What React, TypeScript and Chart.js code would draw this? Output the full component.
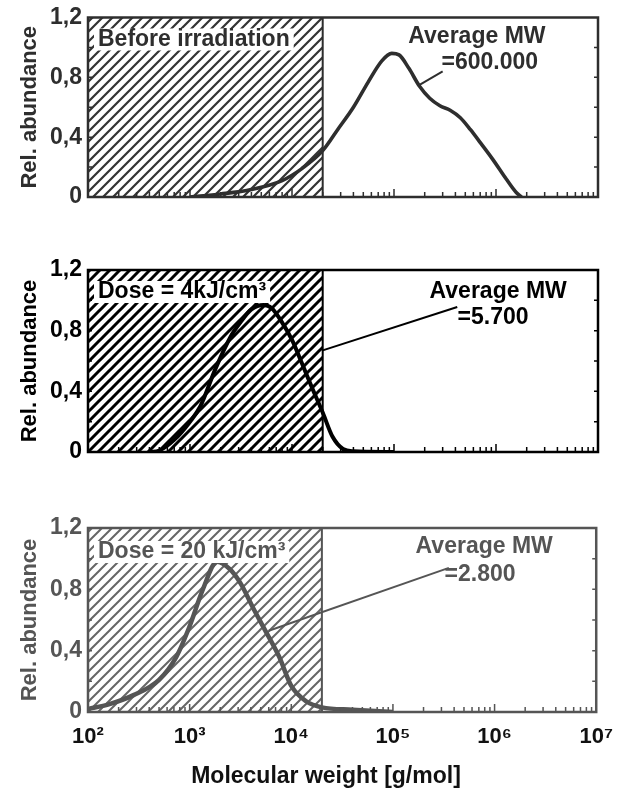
import React, { useEffect, useRef } from 'react';
import { Chart, registerables } from 'chart.js';
Chart.register(...registerables);

// ---- data ----
const xDecades = [100, 1000, 10000, 100000, 1000000, 10000000];
const xTickLabels = ['10²', '10³', '10⁴', '10⁵', '10⁶', '10⁷'];
const yTicks = [0, 0.4, 0.8, 1.2];
const hatchLimitMW = 20000;

const mwBefore = [1000, 2000, 4000, 8000, 12500, 20000, 28000, 40000, 56000, 76000, 95000, 112000, 140000, 178000, 224000, 282000, 355000, 447000, 562000, 708000, 933000, 1260000, 1580000, 1780000];
const abBefore = [0.0, 0.02, 0.05, 0.11, 0.19, 0.31, 0.45, 0.6, 0.77, 0.91, 0.96, 0.95, 0.86, 0.74, 0.66, 0.61, 0.58, 0.53, 0.45, 0.36, 0.25, 0.12, 0.03, 0.0];

const mwDose4 = [400, 500, 700, 1000, 1260, 1780, 2500, 3160, 4000, 5250, 6300, 7900, 10000, 12600, 15800, 20000, 25000, 31600, 40000, 100000];
const abDose4 = [0.0, 0.01, 0.08, 0.2, 0.3, 0.55, 0.76, 0.86, 0.94, 0.97, 0.95, 0.86, 0.74, 0.58, 0.42, 0.26, 0.1, 0.02, 0.005, 0.0];

const mwDose20 = [100, 160, 280, 500, 740, 1000, 1350, 1860, 2500, 3160, 4200, 5250, 7600, 10000, 14000, 20000, 40000, 100000];
const abDose20 = [0.02, 0.05, 0.11, 0.21, 0.36, 0.56, 0.8, 0.98, 0.93, 0.84, 0.68, 0.56, 0.36, 0.17, 0.07, 0.03, 0.015, 0.0];

const panelTitles = ['Before irradiation', 'Dose = 4kJ/cm³', 'Dose = 20 kJ/cm³'];
const avgLabel = 'Average MW';
const avgValues = ['=600.000', '=5.700', '=2.800'];
const avgLabelPos = [[650000, 1.07], [1050000, 1.055], [790000, 1.076]];
const avgValuePos = [[870000, 0.895], [935000, 0.883], [720000, 0.894]];
const leaderMW = [[300000, 178000], [417000, 20000], [355000, 6000]];
const leaderAb = [[0.84, 0.75], [0.956, 0.67], [0.94, 0.53]];

const yTitle = 'Rel. abundance';
const xTitle = 'Molecular weight [g/mol]';

// ---- styles ----
const FONT = '"Liberation Sans", Arial, Helvetica, sans-serif';
const panelStyles = [
  { top: 0, height: 250, pad: { top: 13, bottom: 53 }, ink: '#2e2e2e', hatch: '#333', hatchW: 2.2, lineW: 3.6 },
  { top: 250, height: 250, pad: { top: 20, bottom: 48 }, ink: '#000', hatch: '#000', hatchW: 3, lineW: 4 },
  { top: 500, height: 293, pad: { top: 28, bottom: 0 }, ink: '#555', hatch: '#666', hatchW: 2, lineW: 4.5 },
];
const panelData = [
  { mw: mwBefore, ab: abBefore },
  { mw: mwDose4, ab: abDose4 },
  { mw: mwDose20, ab: abDose20 },
];

function makeHatch(ctx: CanvasRenderingContext2D, color: string, lw: number) {
  const s = 10;
  const c = document.createElement('canvas');
  c.width = s; c.height = s;
  const g = c.getContext('2d')!;
  g.strokeStyle = color; g.lineWidth = lw;
  g.beginPath();
  g.moveTo(-1, s + 1); g.lineTo(s + 1, -1);
  g.moveTo(-s / 2 - 1, s / 2 + 1); g.lineTo(s / 2 + 1, -s / 2 - 1);
  g.moveTo(s / 2 - 1, s * 1.5 + 1); g.lineTo(s * 1.5 + 1, s / 2 - 1);
  g.stroke();
  return ctx.createPattern(c, 'repeat');
}

const fmtY = (v: number) => (v === 0 ? '0' : v.toFixed(1).replace('.', ','));

function Panel({ idx }: { idx: number }) {
  const ref = useRef<HTMLCanvasElement>(null);
  useEffect(() => {
    const canvas = ref.current!;
    const ctx = canvas.getContext('2d')!;
    const st = panelStyles[idx];
    const d = panelData[idx];
    const isBottom = idx === 2;
    const pattern = makeHatch(ctx, st.hatch, st.hatchW);

    const overlay = {
      id: 'overlay' + idx,
      afterDatasetsDraw(chart: any) {
        const { ctx: c, chartArea: a, scales } = chart;
        const xs = scales.x, ys = scales.y;
        c.save();
        // minor/major ticks (inside)
        c.strokeStyle = st.ink; c.lineWidth = 1.5;
        c.beginPath();
        for (let i = 0; i < xDecades.length - 1; i++) {
          for (let k = 1; k <= 9; k++) {
            const px = xs.getPixelForValue(k * xDecades[i]);
            const len = k === 1 ? 8 : 5;
            c.moveTo(px, a.bottom); c.lineTo(px, a.bottom - len);
          }
        }
        for (let v = 0.2; v < 1.2; v += 0.2) {
          const py = ys.getPixelForValue(v);
          c.moveTo(a.left, py); c.lineTo(a.left + 4, py);
          c.moveTo(a.right, py); c.lineTo(a.right - 4, py);
        }
        c.stroke();
        // frame
        c.lineWidth = 2.5; c.strokeStyle = st.ink;
        c.strokeRect(a.left, a.top, a.right - a.left, a.bottom - a.top);
        // panel title with white box
        c.font = 'bold 23px ' + FONT;
        c.textBaseline = 'middle';
        c.textAlign = 'left';
        const tw = c.measureText(panelTitles[idx]).width;
        const ty = a.top + (idx === 2 ? 24 : 22);
        c.fillStyle = '#fff';
        c.fillRect(a.left + 6, ty - 11, tw + 8, 22);
        c.fillStyle = st.ink;
        c.fillText(panelTitles[idx], a.left + 10, ty);
        // average labels
        c.textAlign = 'center';
        c.fillText(avgLabel, xs.getPixelForValue(avgLabelPos[idx][0]), ys.getPixelForValue(avgLabelPos[idx][1]));
        c.fillText(avgValues[idx], xs.getPixelForValue(avgValuePos[idx][0]), ys.getPixelForValue(avgValuePos[idx][1]));
        if (isBottom) {
          c.fillStyle = '#111';
          c.fillText(xTitle, 326, chart.height - 16);
        }
        c.restore();
      },
    };

    const chart = new Chart(canvas, {
      type: 'line',
      data: {
        datasets: [
          {
            data: d.mw.map((m, i) => ({ x: m, y: d.ab[i] })),
            borderColor: st.ink, borderWidth: st.lineW, pointRadius: 0,
            cubicInterpolationMode: 'monotone', fill: false,
          },
          {
            data: leaderMW[idx].map((m, i) => ({ x: m, y: leaderAb[idx][i] })),
            borderColor: st.ink, borderWidth: 2, pointRadius: 0, fill: false,
          },
          {
            data: [{ x: hatchLimitMW, y: 0 }, { x: hatchLimitMW, y: 1.2 }],
            borderColor: st.ink, borderWidth: 2, pointRadius: 0, fill: false,
          },
          {
            data: [{ x: 100, y: 1.2 }, { x: hatchLimitMW, y: 1.2 }],
            borderWidth: 0, borderColor: 'rgba(0,0,0,0)', pointRadius: 0,
            backgroundColor: pattern as any, fill: 'origin',
          },
        ],
      },
      options: {
        animation: false,
        responsive: false,
        layout: { padding: { left: 0, right: 27, top: st.pad.top, bottom: st.pad.bottom } },
        plugins: { legend: { display: false }, tooltip: { enabled: false } },
        scales: {
          x: {
            type: 'logarithmic', min: 100, max: 10000000,
            display: isBottom,
            grid: { display: false, drawTicks: false },
            border: { display: false },
            afterBuildTicks: (ax: any) => { ax.ticks = xDecades.map((v) => ({ value: v })); },
            afterFit: (ax: any) => { ax.height = isBottom ? 81 : 0; },
            ticks: {
              autoSkip: false, maxRotation: 0, padding: 12,
              color: '#111',
              font: { family: FONT, size: 22, weight: 'bold' },
              callback: (v: any) => xTickLabels[xDecades.indexOf(Number(v))] ?? '',
            },
          },
          y: {
            type: 'linear', min: 0, max: 1.2,
            grid: { display: false, drawTicks: false },
            border: { display: false },
            afterBuildTicks: (ax: any) => { ax.ticks = yTicks.map((v) => ({ value: v })); },
            afterFit: (ax: any) => { ax.width = 88; },
            ticks: {
              padding: 6, color: st.ink,
              font: { family: FONT, size: 23, weight: 'bold', lineHeight: 1 },
              callback: (v: any) => fmtY(Number(v)),
            },
            title: {
              display: true, text: yTitle, color: st.ink,
              font: { family: FONT, size: 22, weight: 'bold', lineHeight: 1 },
              padding: { top: 19, bottom: 0 },
            },
          },
        },
      },
      plugins: [overlay],
    } as any);
    return () => chart.destroy();
  }, [idx]);
  const st = panelStyles[idx];
  return (
    <canvas
      ref={ref}
      width={625}
      height={st.height}
      style={{ position: 'absolute', left: 0, top: st.top, width: 625, height: st.height }}
    />
  );
}

export default function App() {
  return (
    <div style={{ position: 'absolute', left: 0, top: 0, width: 625, height: 793, background: '#fff' }}>
      <Panel idx={0} />
      <Panel idx={1} />
      <Panel idx={2} />
    </div>
  );
}
